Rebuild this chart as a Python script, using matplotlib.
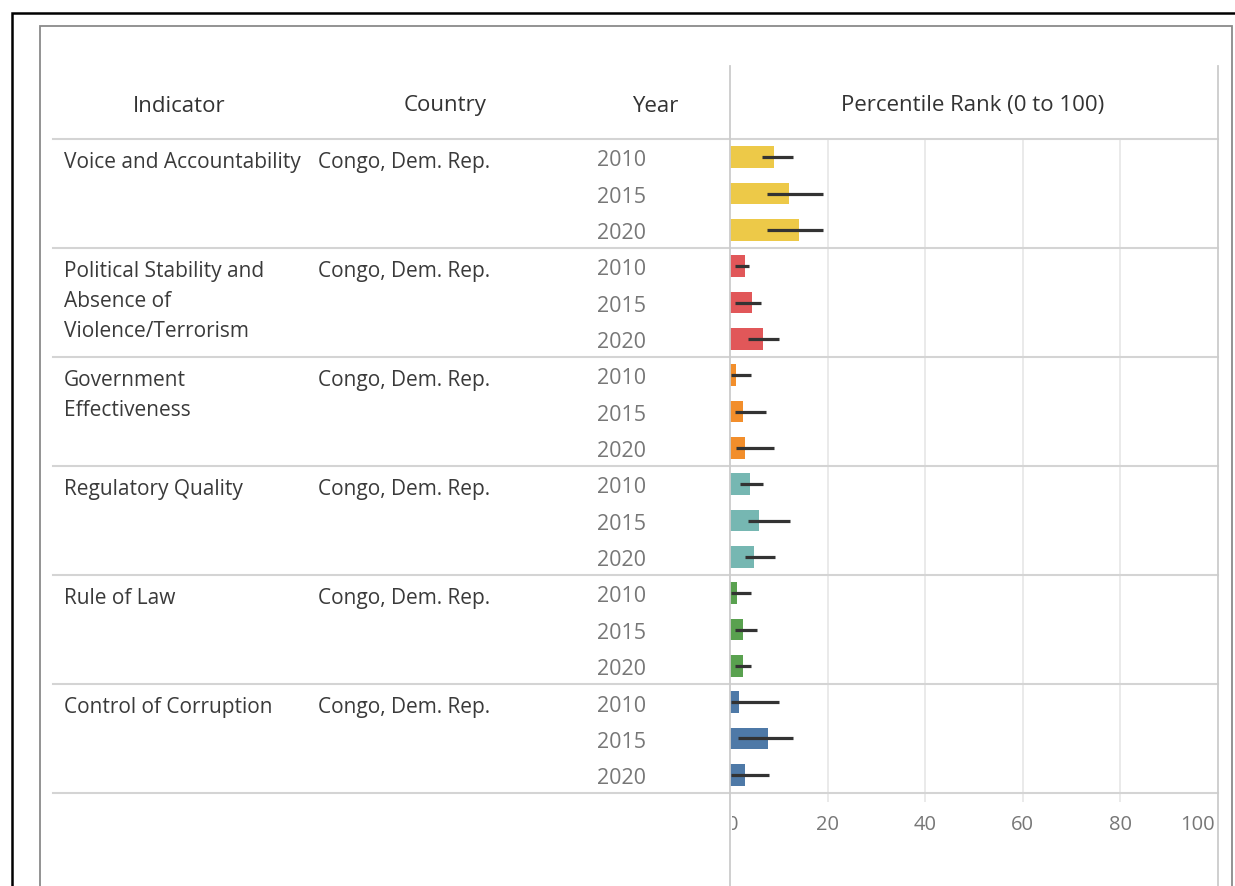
import matplotlib
matplotlib.use("Agg")
import matplotlib.pyplot as plt
from matplotlib.lines import Line2D
from matplotlib.patches import Rectangle
from matplotlib.transforms import Bbox, ScaledTranslation

plt.rcParams['font.family'] = ['Open Sans', 'DejaVu Sans']

# data
indicators = ["Voice and Accountability",
              "Political Stability and\nAbsence of\nViolence/Terrorism",
              "Government\nEffectiveness",
              "Regulatory Quality",
              "Rule of Law",
              "Control of Corruption"]
country = "Congo, Dem. Rep."
years = [2010, 2015, 2020]
colors = ["#EDC948", "#E15759", "#F28E2B", "#76B7B2", "#59A14F", "#4E79A7"]

rank = [[9.0, 12.0, 14.2],
        [3.0, 4.5, 6.8],
        [1.2, 2.7, 3.0],
        [4.2, 6.0, 4.9],
        [1.5, 2.7, 2.7],
        [1.9, 7.8, 3.0]]
lower = [[6.5, 7.6, 7.6],
         [1.0, 1.0, 3.6],
         [0.2, 1.0, 1.3],
         [2.0, 3.6, 3.1],
         [0.2, 1.0, 1.0],
         [0.2, 1.7, 0.2]]
upper = [[13.0, 19.0, 19.0],
         [3.8, 6.4, 10.0],
         [4.4, 7.4, 9.0],
         [6.7, 12.3, 9.3],
         [4.4, 5.6, 4.4],
         [10.0, 13.0, 7.9]]
xticks = [0, 20, 40, 60, 80, 100]

W, H = 1235, 887
fig = plt.figure(figsize=(W / 100, H / 100), dpi=100)


def fx(x):
    return x / W


def fy(y):
    return 1 - y / H


def fline(x0, y0, x1, y1, **kw):
    fig.add_artist(Line2D([fx(x0), fx(x1)], [fy(y0), fy(y1)], transform=fig.transFigure, **kw))


# screenshot frames
fig.add_artist(Rectangle((fx(12), fy(900)), fx(1300), fy(14) - fy(900), transform=fig.transFigure,
                         fill=False, ec="black", lw=1.8))
fig.add_artist(Rectangle((fx(40), fy(900)), fx(1232 - 40), fy(27) - fy(900), transform=fig.transFigure,
                         fill=False, ec="#8a8a8a", lw=1.3))

top, bottom = 140, 794
left, right = 730, 1218
grp_h = (bottom - top) / 6

# bar axes
ax = fig.add_axes([fx(left), fy(bottom), fx(right) - fx(left), fy(top) - fy(bottom)])
ax.set_xlim(0, 100)
ax.set_ylim(18, 0)
for s in ax.spines.values():
    s.set_visible(False)
ax.set_yticks([])
ax.set_xticks(xticks)
ax.tick_params(axis='x', length=0, pad=15, labelsize=14.5, labelcolor="#777777")
for x in xticks[1:-1]:
    ax.vlines(x, 0, 18.25, color="#e6e6e6", lw=1.2, clip_on=False, zorder=0)

for i in range(6):
    ys = [i * 3 + j + 0.5 for j in range(3)]
    ax.barh(ys, rank[i], height=0.6, color=colors[i], zorder=2)
    ax.hlines(ys, lower[i], upper[i], color="#333333", lw=2.3, zorder=3)

# "0" label sits half behind the left rule, "100" is pulled inside
labs = ax.get_xticklabels()
labs[0].set_transform(labs[0].get_transform() + ScaledTranslation(3 / 100, 0, fig.dpi_scale_trans))
labs[0].set_clip_box(Bbox.from_extents(left + 2, 0, W, H))
labs[0].set_clip_on(True)
labs[-1].set_horizontalalignment("right")
labs[-1].set_transform(labs[-1].get_transform() + ScaledTranslation(-3 / 100, 0, fig.dpi_scale_trans))

# table rules
for k in range(7):
    y = top + k * grp_h
    fline(53, y, right, y, color="#d4d4d4", lw=1.5)
fline(left, 67, left, 900, color="#cccccc", lw=1.3)
fline(right, 67, right, 900, color="#cccccc", lw=1.3)

# header
hdr = dict(fontsize=16, color="#333333", va="center", transform=fig.transFigure)
fig.text(fx(179), fy(106), "Indicator", ha="center", **hdr)
fig.text(fx(445), fy(106), "Country", ha="center", **hdr)
fig.text(fx(655), fy(106), "Year", ha="center", **hdr)
fig.text(fx(973), fy(106), "Percentile Rank (0 to 100)", ha="center", **hdr)

# body
for i in range(6):
    gt = top + i * grp_h
    fig.text(fx(64), fy(gt + 12), indicators[i], ha="left", va="top", fontsize=15,
             color="#3a3a3a", linespacing=1.57)
    fig.text(fx(318), fy(gt + 12), country, ha="left", va="top", fontsize=15, color="#3a3a3a")
    for j, yr in enumerate(years):
        fig.text(fx(646), fy(gt + 21 + j * 36.4), str(yr), ha="right", va="center",
                 fontsize=15.5, color="#777777")

fig.savefig("out.png", dpi=100)
